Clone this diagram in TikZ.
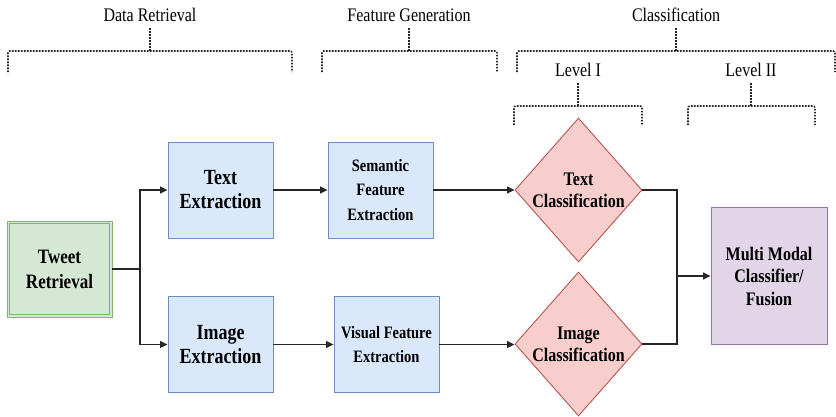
\documentclass[tikz,border=0pt]{standalone}
\usepackage{fontspec}
\usepackage{graphicx}
\setmainfont{Liberation Serif}
\usetikzlibrary{shapes.geometric,arrows.meta}
\definecolor{bfill}{HTML}{DAE8FC}\definecolor{bline}{HTML}{6C8EBF}
\definecolor{gfill}{HTML}{D5E8D4}\definecolor{gline}{HTML}{82B366}
\definecolor{rfill}{HTML}{F8CECC}\definecolor{rline}{HTML}{B85450}
\definecolor{pfill}{HTML}{E1D5E7}\definecolor{pline}{HTML}{9673A6}
\newcommand\vs[1]{\scalebox{1}[1.2]{#1}}
\begin{document}
\begin{tikzpicture}[x=1pt,y=-1pt,
  bluebox/.style={draw=bline,fill=bfill,line width=0.9pt,minimum width=105pt,minimum height=96pt,inner sep=0pt,align=center},
  bigtxt/.style={font=\bfseries\fontsize{18}{24}\selectfont},
  smalltxt/.style={font=\bfseries\fontsize{14.5}{24.5}\selectfont},
  greenbox/.style={draw=gline,fill=gfill,line width=0.9pt,minimum width=105pt,minimum height=96pt,inner sep=0pt,align=center,font=\bfseries\fontsize{17}{25}\selectfont},
  dia/.style={shape=diamond,draw=rline,fill=rfill,line width=0.9pt,minimum width=127pt,minimum height=144pt,inner sep=0pt},
  diatxt/.style={align=center,font=\bfseries\fontsize{16}{22}\selectfont},
  purplebox/.style={draw=pline,fill=pfill,line width=0.9pt,minimum width=116pt,minimum height=137pt,inner sep=0pt,align=center,font=\bfseries\fontsize{16}{22.5}\selectfont},
  arr/.style={draw=black!85,line width=1.1pt,-{Triangle[length=7.5pt,width=7pt]}},
  ln/.style={draw=black!85,line width=1.1pt},
  brk/.style={draw=black!85,line width=1.6pt,dash pattern=on 1.6pt off 1.4pt,rounded corners=2pt},
  hdr/.style={font=\fontsize{16}{18}\selectfont,inner sep=0pt}
]
\useasboundingbox (0,0) rectangle (836,416);

% headers
\node[hdr] (hdr1) at (150,15) {\vs{Data Retrieval}};
\node[hdr] (hdr2) at (409,15) {\vs{Feature Generation}};
\node[hdr] (hdr3) at (676,15) {\vs{Classification}};
\node[hdr] (hdr4) at (578,70) {\vs{Level I}};
\node[hdr] (hdr5) at (751,70) {\vs{Level II}};

% brackets
\draw[brk] (8,72) -- (8,51) -- (292,51) -- (292,72);
\draw[brk] (150,28) -- (150,51);
\draw[brk] (322,72) -- (322,51) -- (497,51) -- (497,72);
\draw[brk] (409,28) -- (409,51);
\draw[brk] (517,72) -- (517,51) -- (835,51) -- (835,72);
\draw[brk] (676,28) -- (676,51);
\draw[brk] (514,125) -- (514,106) -- (642,106) -- (642,125);
\draw[brk] (578,83) -- (578,106);
\draw[brk] (688,125) -- (688,106) -- (815,106) -- (815,125);
\draw[brk] (751,83) -- (751,106);

% nodes
\node[greenbox] (tw) at (59.5,269) {\vs{Tweet}\\\vs{Retrieval}};
\draw[draw=gline,line width=0.9pt] ([xshift=3pt,yshift=-3pt]tw.north west) rectangle ([xshift=-3pt,yshift=3pt]tw.south east);
\node[bluebox,bigtxt] (te) at (220.5,190) {\vs{Text}\\\vs{Extraction}};
\node[bluebox,bigtxt] (ie) at (220.5,344.5) {\vs{Image}\\\vs{Extraction}};
\node[bluebox,smalltxt] (se) at (380.5,190) {\vs{Semantic}\\\vs{Feature}\\\vs{Extraction}};
\node[bluebox,smalltxt] (vf) at (386.5,344.5) {\vs{Visual Feature}\\\vs{Extraction}};
\node[dia,label={[diatxt]center:\vs{Text}\\\vs{Classification}}] (tc) at (578.5,190) {};
\node[dia,label={[diatxt]center:\vs{Image}\\\vs{Classification}}] (ic) at (578.5,344) {};
\node[purplebox] (mm) at (769,276) {\vs{Multi Modal}\\\vs{Classifier/}\\\vs{Fusion}};

% connectors
\coordinate (split) at (140,269);
\coordinate (jn) at (677,276);
\draw[ln] (tw.east) -- (split);
\draw[arr] (split) |- (te.west);
\draw[arr] (split) |- (ie.west);
\draw[arr] (te.east) -- (se.west);
\draw[arr] (ie.east) -- (vf.west);
\draw[arr] (se.east) -- (tc.west);
\draw[arr] (vf.east) -- (ic.west |- vf.east);
\draw[ln] (tc.east) -| (jn);
\draw[ln] (ic.east) -| (jn);
\draw[arr] (jn) -- (mm.west);
\end{tikzpicture}
\end{document}
